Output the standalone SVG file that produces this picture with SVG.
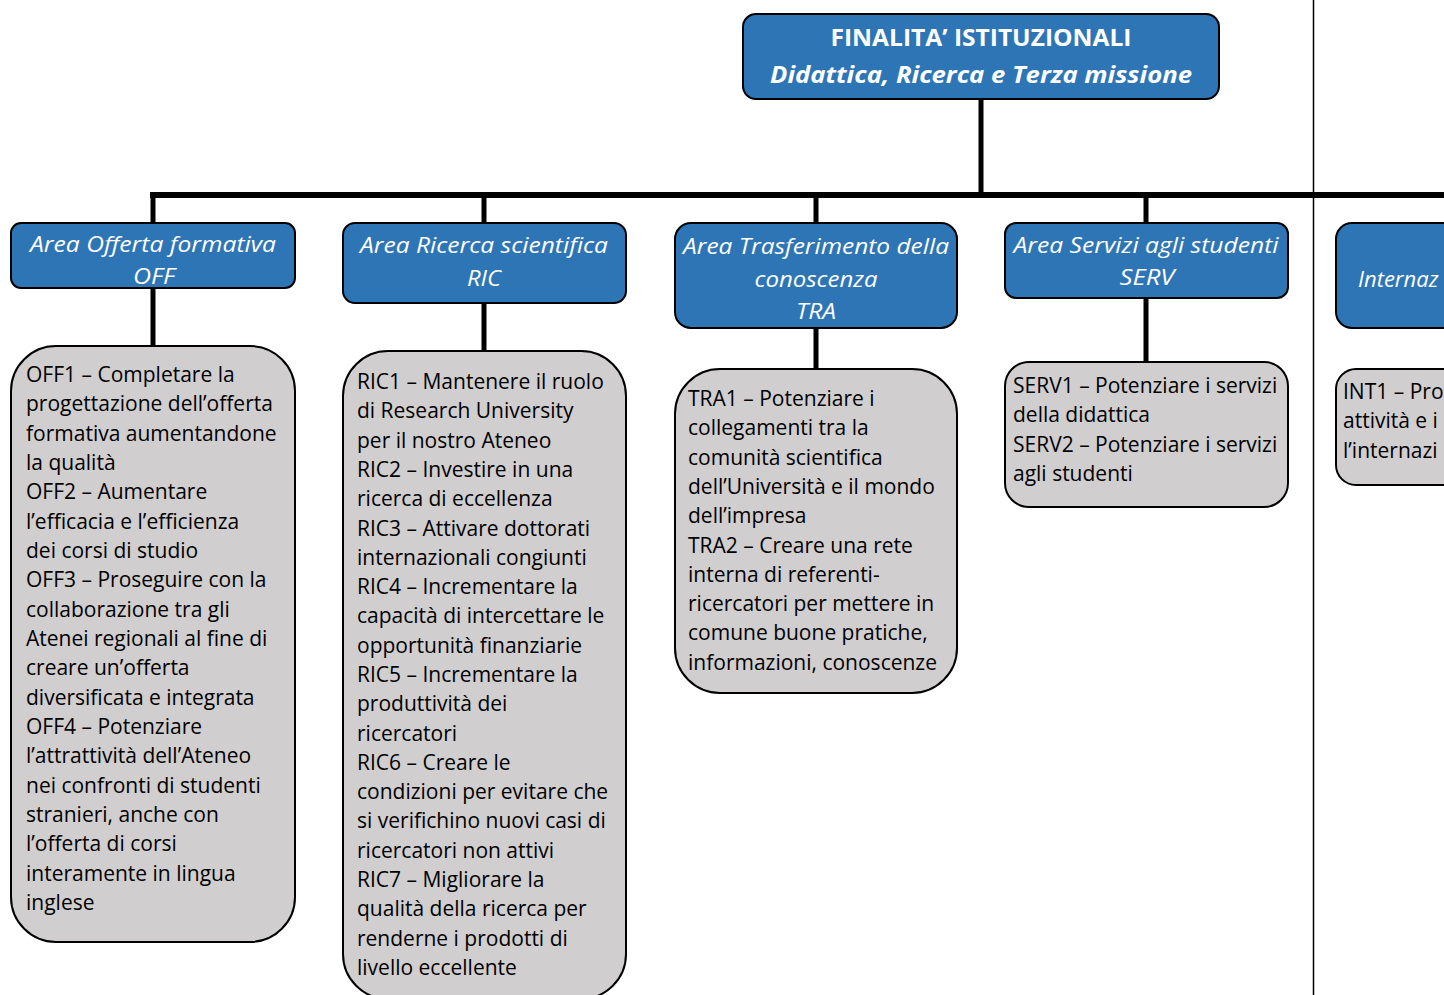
<svg xmlns="http://www.w3.org/2000/svg" width="1444" height="995" viewBox="0 0 1444 995">
<style>
.blue{fill:#2E75B6;stroke:#000;stroke-width:2}
.gray{fill:#D0CECE;stroke:#000;stroke-width:2}
.h{font-family:"Open Sans",Lato,"Liberation Sans",sans-serif;fill:#fff;text-anchor:middle}
.hb{font-weight:bold;font-size:24px}
.hi{font-style:italic;font-size:22px}
.t{font-family:"Open Sans",Lato,"Liberation Sans",sans-serif;font-size:21px;fill:#000}
.c{stroke:#000;fill:none}
</style>
<rect width="1444" height="995" fill="#fff"/>
<line x1="1313.5" y1="0" x2="1313.5" y2="995" stroke="#000" stroke-width="1.5"/>
<g id="connectors">
<line class="c" x1="981" y1="99" x2="981" y2="195" stroke-width="5"/>
<line class="c" x1="150" y1="195" x2="1444" y2="195" stroke-width="6"/>
<line class="c" x1="153" y1="195" x2="153" y2="223" stroke-width="5"/>
<line class="c" x1="484" y1="195" x2="484" y2="223" stroke-width="5"/>
<line class="c" x1="816" y1="195" x2="816" y2="223" stroke-width="5"/>
<line class="c" x1="1146" y1="195" x2="1146" y2="223" stroke-width="5"/>
<line class="c" x1="153" y1="288" x2="153" y2="346" stroke-width="5"/>
<line class="c" x1="484" y1="303" x2="484" y2="351" stroke-width="5"/>
<line class="c" x1="816" y1="328" x2="816" y2="369" stroke-width="5"/>
<line class="c" x1="1146" y1="298" x2="1146" y2="362" stroke-width="5"/>
</g>
<g id="top">
<rect class="blue" x="743" y="14" width="476" height="85" rx="13"/>
<text class="h hb" x="981" y="46" textLength="301" lengthAdjust="spacingAndGlyphs">FINALITA’ ISTITUZIONALI</text>
<text class="h hb" x="981" y="83" font-style="italic" textLength="422" lengthAdjust="spacingAndGlyphs">Didattica, Ricerca e Terza missione</text>
</g>
<g id="area-off">
<rect class="blue" x="11" y="223" width="284" height="65" rx="10"/>
<text class="h hi" x="153" y="252" textLength="246" lengthAdjust="spacingAndGlyphs">Area Offerta formativa</text>
<text class="h hi" x="154" y="284" textLength="42" lengthAdjust="spacingAndGlyphs">OFF</text>
</g>
<g id="area-ric">
<rect class="blue" x="343" y="223" width="283" height="80" rx="12"/>
<text class="h hi" x="484" y="253" textLength="248" lengthAdjust="spacingAndGlyphs">Area Ricerca scientifica</text>
<text class="h hi" x="484" y="286" textLength="34" lengthAdjust="spacingAndGlyphs">RIC</text>
</g>
<g id="area-tra">
<rect class="blue" x="675" y="223" width="282" height="105" rx="16"/>
<text class="h hi" x="816" y="254" textLength="266" lengthAdjust="spacingAndGlyphs">Area Trasferimento della</text>
<text class="h hi" x="816" y="287" textLength="123" lengthAdjust="spacingAndGlyphs">conoscenza</text>
<text class="h hi" x="816" y="319" textLength="40" lengthAdjust="spacingAndGlyphs">TRA</text>
</g>
<g id="area-serv">
<rect class="blue" x="1005" y="223" width="283" height="75" rx="11"/>
<text class="h hi" x="1146" y="253" textLength="265" lengthAdjust="spacingAndGlyphs">Area Servizi agli studenti</text>
<text class="h hi" x="1147" y="285" textLength="55" lengthAdjust="spacingAndGlyphs">SERV</text>
</g>
<g id="area-int">
<rect class="blue" x="1336" y="223" width="200" height="105" rx="16"/>
<text class="h hi" x="1358" y="287" style="text-anchor:start">Internaz</text>
</g>
<g id="obj-off">
<rect class="gray" x="11" y="346" width="284" height="596" rx="45"/>
<text class="t">
<tspan x="26" y="382">OFF1 – Completare la</tspan>
<tspan x="26" dy="29.33">progettazione dell’offerta</tspan>
<tspan x="26" dy="29.33">formativa aumentandone</tspan>
<tspan x="26" dy="29.33">la qualità</tspan>
<tspan x="26" dy="29.33">OFF2 – Aumentare</tspan>
<tspan x="26" dy="29.33">l’efficacia e l’efficienza</tspan>
<tspan x="26" dy="29.33">dei corsi di studio</tspan>
<tspan x="26" dy="29.33">OFF3 – Proseguire con la</tspan>
<tspan x="26" dy="29.33">collaborazione tra gli</tspan>
<tspan x="26" dy="29.33">Atenei regionali al fine di</tspan>
<tspan x="26" dy="29.33">creare un’offerta</tspan>
<tspan x="26" dy="29.33">diversificata e integrata</tspan>
<tspan x="26" dy="29.33">OFF4 – Potenziare</tspan>
<tspan x="26" dy="29.33">l’attrattività dell’Ateneo</tspan>
<tspan x="26" dy="29.33">nei confronti di studenti</tspan>
<tspan x="26" dy="29.33">stranieri, anche con</tspan>
<tspan x="26" dy="29.33">l’offerta di corsi</tspan>
<tspan x="26" dy="29.33">interamente in lingua</tspan>
<tspan x="26" dy="29.33">inglese</tspan>
</text>
</g>
<g id="obj-ric">
<rect class="gray" x="343" y="351" width="283" height="648" rx="45"/>
<text class="t">
<tspan x="357" y="389">RIC1 – Mantenere il ruolo</tspan>
<tspan x="357" dy="29.3">di Research University</tspan>
<tspan x="357" dy="29.3">per il nostro Ateneo</tspan>
<tspan x="357" dy="29.3">RIC2 – Investire in una</tspan>
<tspan x="357" dy="29.3">ricerca di eccellenza</tspan>
<tspan x="357" dy="29.3">RIC3 – Attivare dottorati</tspan>
<tspan x="357" dy="29.3">internazionali congiunti</tspan>
<tspan x="357" dy="29.3">RIC4 – Incrementare la</tspan>
<tspan x="357" dy="29.3">capacità di intercettare le</tspan>
<tspan x="357" dy="29.3">opportunità finanziarie</tspan>
<tspan x="357" dy="29.3">RIC5 – Incrementare la</tspan>
<tspan x="357" dy="29.3">produttività dei</tspan>
<tspan x="357" dy="29.3">ricercatori</tspan>
<tspan x="357" dy="29.3">RIC6 – Creare le</tspan>
<tspan x="357" dy="29.3">condizioni per evitare che</tspan>
<tspan x="357" dy="29.3">si verifichino nuovi casi di</tspan>
<tspan x="357" dy="29.3">ricercatori non attivi</tspan>
<tspan x="357" dy="29.3">RIC7 – Migliorare la</tspan>
<tspan x="357" dy="29.3">qualità della ricerca per</tspan>
<tspan x="357" dy="29.3">renderne i prodotti di</tspan>
<tspan x="357" dy="29.3">livello eccellente</tspan>
</text>
</g>
<g id="obj-tra">
<rect class="gray" x="675" y="369" width="282" height="324" rx="45"/>
<text class="t">
<tspan x="688" y="406">TRA1 – Potenziare i</tspan>
<tspan x="688" dy="29.3">collegamenti tra la</tspan>
<tspan x="688" dy="29.3">comunità scientifica</tspan>
<tspan x="688" dy="29.3">dell’Università e il mondo</tspan>
<tspan x="688" dy="29.3">dell’impresa</tspan>
<tspan x="688" dy="29.3">TRA2 – Creare una rete</tspan>
<tspan x="688" dy="29.3">interna di referenti-</tspan>
<tspan x="688" dy="29.3">ricercatori per mettere in</tspan>
<tspan x="688" dy="29.3">comune buone pratiche,</tspan>
<tspan x="688" dy="29.3">informazioni, conoscenze</tspan>
</text>
</g>
<g id="obj-serv">
<rect class="gray" x="1005" y="362" width="283" height="145" rx="24"/>
<text class="t">
<tspan x="1013" y="393">SERV1 – Potenziare i servizi</tspan>
<tspan x="1013" dy="29.3">della didattica</tspan>
<tspan x="1013" dy="29.3">SERV2 – Potenziare i servizi</tspan>
<tspan x="1013" dy="29.3">agli studenti</tspan>
</text>
</g>
<g id="obj-int">
<rect class="gray" x="1336" y="369" width="200" height="116" rx="20"/>
<text class="t">
<tspan x="1343" y="399">INT1 – Pro</tspan>
<tspan x="1343" dy="29.3">attività e i</tspan>
<tspan x="1343" dy="29.3">l’internazi</tspan>
</text>
</g>
</svg>
